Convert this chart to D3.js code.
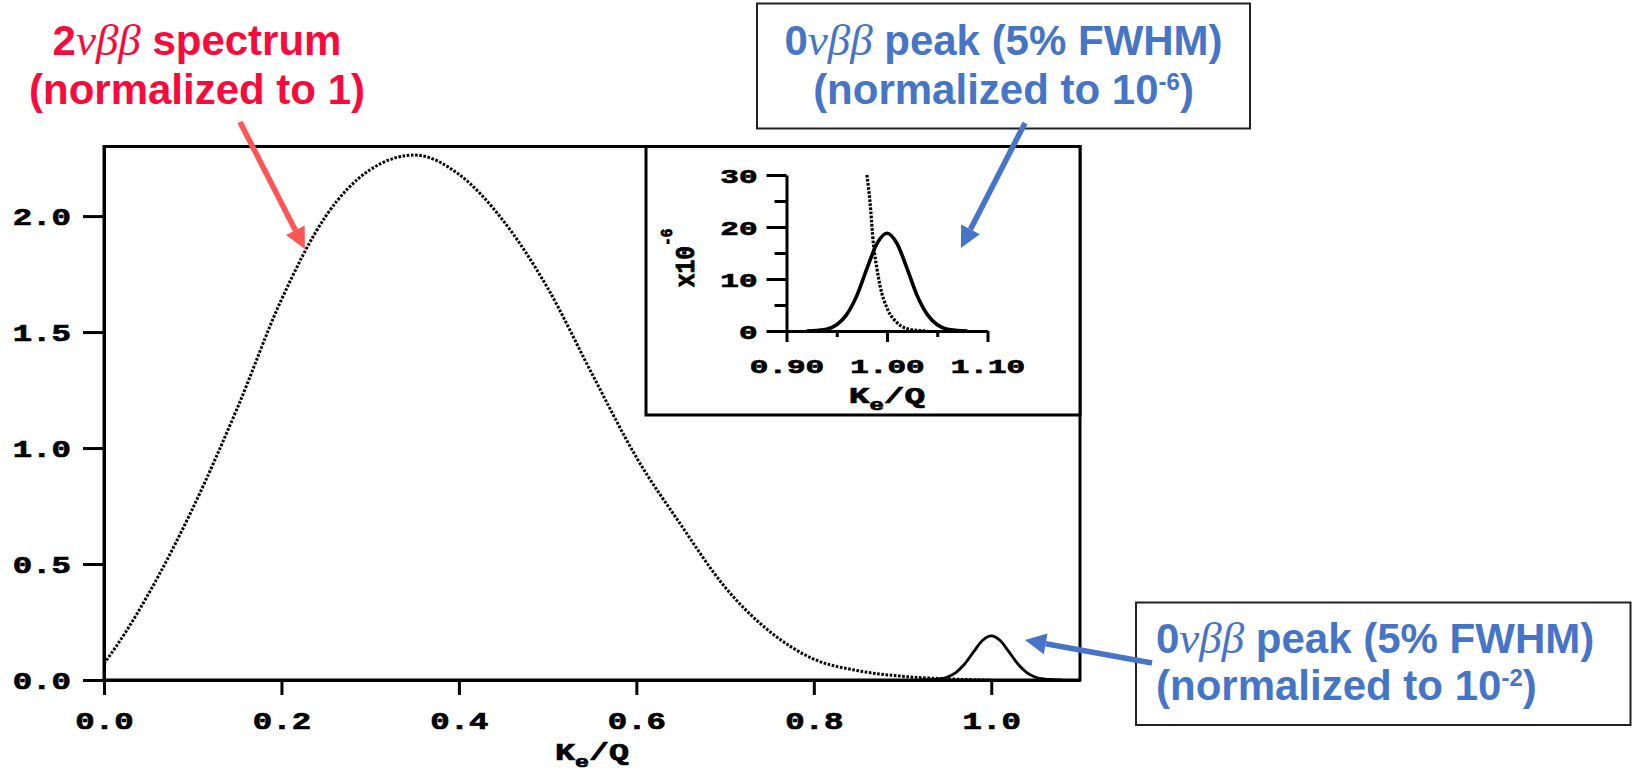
<!DOCTYPE html>
<html>
<head>
<meta charset="utf-8">
<script src="https://cdn.jsdelivr.net/npm/d3@7/dist/d3.min.js"></script>
<style>
  body { margin: 0; background: #fff; }
  svg { display: block; }
</style>
</head>
<body>
<div id="chart"></div>
<script>
// 2nubb spectrum (normalized to 1)
var specX = [0, 0.025, 0.05, 0.10, 0.15, 0.20, 0.25, 0.30, 0.35, 0.40, 0.45, 0.50, 0.55, 0.60, 0.65, 0.70, 0.75, 0.80, 0.85, 0.90, 0.95, 1.00];
var specY = [0.07, 0.21, 0.37, 0.74, 1.17, 1.64, 2.00, 2.20, 2.263, 2.18, 1.98, 1.69, 1.32, 0.96, 0.67, 0.40, 0.21, 0.09, 0.04, 0.016, 0.005, 0.0];

// 0nubb peak, 5% FWHM
var peakX = [0.92, 0.93, 0.94, 0.95, 0.96, 0.97, 0.98, 0.99, 1.00, 1.01, 1.02, 1.03, 1.04, 1.05, 1.06, 1.07, 1.08];
var peakMainY = [0, 0.001, 0.004, 0.012, 0.032, 0.069, 0.121, 0.17, 0.19, 0.17, 0.121, 0.069, 0.032, 0.012, 0.004, 0.001, 0];
var peakInsetY = [0, 0.1, 0.35, 1.2, 3.2, 6.8, 12.0, 16.8, 18.8, 16.8, 12.0, 6.8, 3.2, 1.2, 0.35, 0.1, 0];

// end of the 2nubb spectrum in the inset (x10^-6)
var tailX = [0.980, 0.983, 0.9866, 0.990, 0.9933, 1.000, 1.010, 1.023, 1.040];
var tailY = [30, 25, 16.5, 12, 8.5, 4.4, 1.6, 0.3, 0];

var mainXTicks = [0, 0.2, 0.4, 0.6, 0.8, 1.0];
var mainYTicks = [0, 0.5, 1.0, 1.5, 2.0];
var insetXTicks = [0.90, 1.00, 1.10];
var insetXMinor = [0.95, 1.05];
var insetYTicks = [0, 10, 20, 30];
var insetYMinor = [5, 15, 25];

var monoFont = "'Liberation Mono', 'DejaVu Sans Mono', monospace";
var sansFont = "'Liberation Sans', Arial, Helvetica, sans-serif";
var greekFont = "'Liberation Serif', 'DejaVu Serif', serif";
var red = "#f80a3c", redArrow = "#ff5555", blue = "#4674c6";

var svg = d3.select("#chart").append("svg")
    .attr("width", 1632)
    .attr("height", 771);

svg.append("rect").attr("width", 1632).attr("height", 771).attr("fill", "#fff");

// ---- main plot ----
var x = d3.scaleLinear().domain([0, 1.1]).range([104, 1080]);
var y = d3.scaleLinear().domain([0, 2.3]).range([680, 146.5]);

svg.append("rect")
    .attr("x", x(0)).attr("y", y(2.3))
    .attr("width", x(1.1) - x(0)).attr("height", y(0) - y(2.3))
    .attr("fill", "none").attr("stroke", "#000").attr("stroke-width", 3);

var gx = svg.append("g")
    .attr("transform", "translate(0," + y(0) + ")")
    .call(d3.axisBottom(x).tickValues(mainXTicks).tickSize(15).tickSizeOuter(0)
        .tickFormat(d3.format(".1f")));
var gy = svg.append("g")
    .attr("transform", "translate(" + x(0) + ",0)")
    .call(d3.axisLeft(y).tickValues(mainYTicks).tickSize(21).tickSizeOuter(0)
        .tickFormat(d3.format(".1f")));

styleAxis(gx, 24);
styleAxis(gy, 24);
gx.selectAll(".tick text")
    .attr("y", null).attr("dy", null)
    .attr("transform", "translate(0,49) scale(1.35,1)");
gy.selectAll(".tick text")
    .attr("x", null).attr("dy", "0.36em")
    .attr("transform", "translate(-33,0) scale(1.35,1)");

axisTitle(svg, (x(0) + x(1.1)) / 2, 760, 1.45);

var line = d3.line()
    .x(function(d){ return x(d[0]); })
    .y(function(d){ return y(d[1]); })
    .curve(d3.curveMonotoneX);

svg.append("path")
    .datum(d3.zip(specX, specY))
    .attr("d", line)
    .attr("fill", "none")
    .attr("stroke", "#000")
    .attr("stroke-width", 3)
    .attr("stroke-dasharray", "2.6,1.6");

svg.append("path")
    .datum(d3.zip(peakX, peakMainY))
    .attr("d", line)
    .attr("fill", "none")
    .attr("stroke", "#000")
    .attr("stroke-width", 2.8);

// ---- inset ----
svg.append("rect")
    .attr("x", 646).attr("y", y(2.3))
    .attr("width", x(1.1) - 646).attr("height", 415 - y(2.3))
    .attr("fill", "#fff").attr("stroke", "#000").attr("stroke-width", 3);

var xi = d3.scaleLinear().domain([0.9, 1.1]).range([786.5, 987.5]);
var yi = d3.scaleLinear().domain([0, 30]).range([331, 175]);

var gxi = svg.append("g")
    .attr("transform", "translate(0," + yi(0) + ")")
    .call(d3.axisBottom(xi).tickValues(insetXTicks).tickSize(11).tickSizeOuter(0)
        .tickFormat(d3.format(".2f")));
var gyi = svg.append("g")
    .attr("transform", "translate(" + xi(0.9) + ",0)")
    .call(d3.axisLeft(yi).tickValues(insetYTicks).tickSize(20).tickSizeOuter(0)
        .tickFormat(d3.format("d")));
svg.append("g")
    .attr("transform", "translate(0," + yi(0) + ")")
    .call(d3.axisBottom(xi).tickValues(insetXMinor).tickSize(6).tickSizeOuter(0).tickFormat(""))
    .call(function(g){ g.select(".domain").remove(); });
svg.append("g")
    .attr("transform", "translate(" + xi(0.9) + ",0)")
    .call(d3.axisLeft(yi).tickValues(insetYMinor).tickSize(12).tickSizeOuter(0).tickFormat(""))
    .call(function(g){ g.select(".domain").remove(); });

svg.selectAll("g").selectAll("line, path.domain")
    .attr("stroke", "#000").attr("stroke-width", 3);

styleAxis(gxi, 20);
styleAxis(gyi, 20);
gxi.selectAll(".tick text")
    .attr("y", null).attr("dy", null)
    .attr("transform", "translate(0,42) scale(1.55,1)");
gyi.selectAll(".tick text")
    .attr("x", null).attr("dy", "0.38em")
    .attr("transform", "translate(-29,0) scale(1.55,1)");

axisTitle(svg, (xi(0.9) + xi(1.1)) / 2, 403, 1.5);

var yLab = svg.append("text")
    .attr("transform", "translate(694,258) rotate(-90) scale(0.85,1)")
    .attr("text-anchor", "middle")
    .attr("stroke", "#000").attr("stroke-width", 0.9)
    .style("font-family", monoFont)
    .style("font-weight", "bold")
    .style("font-size", "27px");
yLab.append("tspan").text("x10");
yLab.append("tspan").attr("dy", -22).style("font-size", "17px").text("-6");

var linei = d3.line()
    .x(function(d){ return xi(d[0]); })
    .y(function(d){ return yi(d[1]); })
    .curve(d3.curveMonotoneX);

svg.append("path")
    .datum(d3.zip(tailX, tailY))
    .attr("d", linei)
    .attr("fill", "none")
    .attr("stroke", "#000")
    .attr("stroke-width", 3.2)
    .attr("stroke-dasharray", "2.6,1.5");

svg.append("path")
    .datum(d3.zip(peakX, peakInsetY))
    .attr("d", linei)
    .attr("fill", "none")
    .attr("stroke", "#000")
    .attr("stroke-width", 3.6);

// ---- annotations ----
var redLabel = svg.append("text")
    .attr("x", 197).attr("y", 55)
    .attr("text-anchor", "middle")
    .attr("fill", red)
    .style("font-family", sansFont).style("font-weight", "bold").style("font-size", "42px");
redLabel.append("tspan").text("2");
greek(redLabel);
redLabel.append("tspan").text(" spectrum");
svg.append("text")
    .attr("x", 197).attr("y", 104)
    .attr("text-anchor", "middle")
    .attr("fill", red)
    .style("font-family", sansFont).style("font-weight", "bold").style("font-size", "42px")
    .text("(normalized to 1)");

drawArrow(240, 122, x(0.2264), y(1.858), redArrow);

// box for the inset
svg.append("rect")
    .attr("x", 757).attr("y", 3.5).attr("width", 493).attr("height", 125)
    .attr("fill", "#fff").attr("stroke", "#222").attr("stroke-width", 2);
peakLabel(1003.5, 55, 104, "middle", "-6");
drawArrow(1025, 123, xi(1.0735), yi(15.95), blue);

// box for the main peak
svg.append("rect")
    .attr("x", 1136).attr("y", 602.5).attr("width", 494.5).attr("height", 122.5)
    .attr("fill", "#fff").attr("stroke", "#222").attr("stroke-width", 2);
peakLabel(1156, 653, 700, "start", "-2");
drawArrow(1152, 663, x(1.038), y(0.172), blue);

function styleAxis(g, size){
    g.selectAll(".tick text")
        .attr("fill", "#000")
        .attr("stroke", "#000")
        .attr("stroke-width", 0.7)
        .style("font-family", monoFont)
        .style("font-weight", "bold")
        .style("font-size", size + "px");
}

function greek(t){
    t.append("tspan")
        .style("font-family", greekFont).style("font-style", "italic")
        .style("font-weight", "normal").style("font-size", "45px")
        .text("νββ");
}

function axisTitle(parent, cx, base, sx){
    var t = parent.append("text")
        .attr("transform", "translate(" + cx + "," + base + ") scale(" + sx + ",1)")
        .attr("text-anchor", "middle")
        .attr("stroke", "#000").attr("stroke-width", 0.7)
        .style("font-family", monoFont)
        .style("font-weight", "bold")
        .style("font-size", "23px");
    t.append("tspan").text("K");
    t.append("tspan").attr("dy", 7).style("font-size", "16px").text("e");
    t.append("tspan").attr("dy", -7).text("/Q");
}

function peakLabel(px, y1, y2, anchor, expo){
    var t1 = svg.append("text")
        .attr("x", px).attr("y", y1)
        .attr("text-anchor", anchor)
        .attr("fill", blue)
        .style("font-family", sansFont).style("font-weight", "bold").style("font-size", "42px");
    t1.append("tspan").text("0");
    greek(t1);
    t1.append("tspan").text(" peak (5% FWHM)");
    var t2 = svg.append("text")
        .attr("x", px).attr("y", y2)
        .attr("text-anchor", anchor)
        .attr("fill", blue)
        .style("font-family", sansFont).style("font-weight", "bold").style("font-size", "42px");
    t2.append("tspan").text("(normalized to 10");
    t2.append("tspan").attr("dy", -14).style("font-size", "24px").text(expo);
    t2.append("tspan").attr("dy", 14).text(")");
}

function drawArrow(x1, y1, x2, y2, color){
    var headLen = 21, headW = 10.5;
    var ang = Math.atan2(y2 - y1, x2 - x1);
    var bx = x2 - headLen * Math.cos(ang), by = y2 - headLen * Math.sin(ang);
    svg.append("line")
        .attr("x1", x1).attr("y1", y1).attr("x2", bx).attr("y2", by)
        .attr("stroke", color).attr("stroke-width", 5.5);
    var s = Math.sin(ang), c = Math.cos(ang);
    svg.append("polygon")
        .attr("points", [[x2, y2], [bx + headW * s, by - headW * c], [bx - headW * s, by + headW * c]].join(" "))
        .attr("fill", color);
}
</script>
</body>
</html>
